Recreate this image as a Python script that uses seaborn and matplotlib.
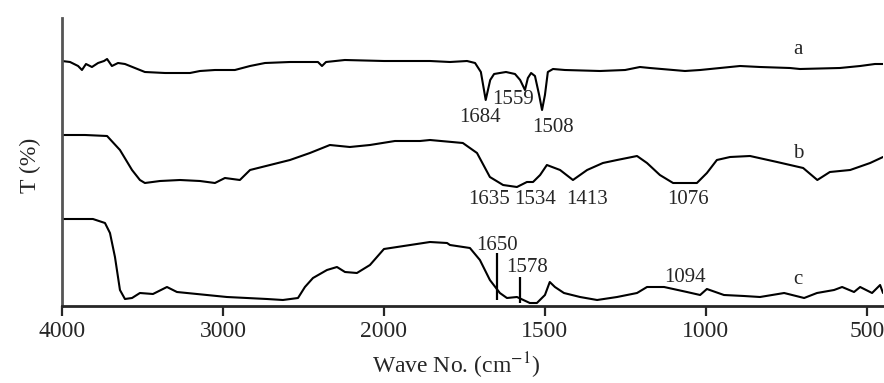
import numpy as np
import pandas as pd
import matplotlib
matplotlib.use("Agg")
import matplotlib.pyplot as plt
import seaborn as sns

# wavenumber (cm-1) and relative transmittance
wn_a = [4000, 3950, 3900, 3876, 3851, 3814, 3776, 3739, 3720, 3690, 3652, 3609, 3547,
        3485, 3360, 3205, 3143, 3050, 2926, 2832, 2739, 2584, 2410, 2385, 2360, 2243,
        2000, 1857, 1795, 1742, 1717, 1699, 1684, 1670, 1658, 1640, 1621, 1593, 1577,
        1562, 1553, 1543, 1531, 1518, 1509, 1500, 1491, 1475, 1438, 1329, 1251, 1205,
        1174, 1065, 1018, 956, 894, 832, 739, 708, 584, 521, 475, 450]
t_a = [245, 244, 240, 236, 242, 239, 243, 245, 247, 240, 243, 242, 238,
       234, 233, 233, 235, 236, 236, 240, 243, 244, 244, 240, 244, 246,
       245, 245, 244, 245, 243, 234, 206, 226, 232, 233, 234, 232, 226,
       216, 228, 233, 230, 211, 196, 211, 234, 237, 236, 235, 236, 239,
       238, 235, 236, 238, 240, 239, 238, 237, 238, 240, 242, 242]

wn_b = [4000, 3857, 3720, 3640, 3565, 3516, 3485, 3391, 3267, 3143, 3050, 2988, 2895,
        2832, 2708, 2584, 2460, 2336, 2212, 2087, 1966, 1888, 1857, 1755, 1711, 1671,
        1630, 1587, 1556, 1537, 1515, 1494, 1453, 1413, 1369, 1320, 1276, 1214, 1183,
        1143, 1102, 1028, 997, 966, 925, 863, 779, 698, 654, 615, 552, 490, 450]
t_b = [171, 171, 170, 156, 136, 126, 123, 125, 126, 125, 123, 128, 126,
       136, 141, 146, 153, 161, 159, 161, 165, 165, 166, 163, 153, 129,
       121, 119, 124, 124, 131, 141, 136, 126, 136, 143, 146, 150, 143,
       131, 123, 123, 133, 146, 149, 150, 144, 138, 126, 134, 136, 143, 149]

wn_c = [4000, 3808, 3733, 3702, 3671, 3640, 3609, 3565, 3516, 3435, 3348, 3286, 3224,
        3100, 2976, 2851, 2727, 2628, 2534, 2491, 2441, 2354, 2292, 2242, 2168, 2087,
        2000, 1857, 1804, 1795, 1733, 1702, 1671, 1640, 1618, 1587, 1547, 1525, 1500,
        1485, 1469, 1441, 1391, 1338, 1276, 1214, 1183, 1130, 1059, 1018, 997, 944,
        882, 832, 757, 695, 655, 602, 577, 540, 521, 484, 459, 450]
t_c = [87, 87, 83, 73, 49, 16, 7, 8, 13, 12, 19, 14, 13,
       11, 9, 8, 7, 6, 8, 19, 28, 36, 39, 34, 33, 41,
       57, 64, 63, 61, 58, 46, 26, 13, 8, 9, 3, 3, 11,
       24, 19, 13, 9, 6, 9, 13, 19, 19, 14, 11, 17, 11,
       10, 9, 13, 8, 13, 16, 19, 14, 19, 13, 21, 13]

# peak labels and the two marker sticks on curve c
peaks_a = [1684, 1559, 1508]
peaks_b = [1635, 1534, 1413, 1076]
peaks_c = [1650, 1578, 1094]
stick_wn = [1650, 1578]
stick_lo = [6, 3]
stick_hi = [53, 29]

curves = {"a": (wn_a, t_a), "b": (wn_b, t_b), "c": (wn_c, t_c)}

sns.set_style("ticks")
plt.rcParams["font.family"] = ["Liberation Serif", "DejaVu Serif"]
plt.rcParams["mathtext.fontset"] = "stix"

fig = plt.figure(figsize=(8.84, 3.83), dpi=100)
ax = fig.add_axes([62 / 884, 77 / 383, 821 / 884, 288 / 383])

for name, (wn, t) in curves.items():
    df = pd.DataFrame({"wn": wn, "T": t})
    sns.lineplot(data=df, x="wn", y="T", ax=ax, color="black", lw=1.5,
                 estimator=None, sort=True)

ax.vlines(stick_wn, stick_lo, stick_hi, color="black", lw=1.6)


# wavenumber axis is expanded 2x below 2000 cm-1
def fwd(x):
    x = np.asarray(x, dtype=float)
    return np.where(x > 2000, 2000 + (x - 2000) / 2, x)


def inv(g):
    g = np.asarray(g, dtype=float)
    return np.where(g > 2000, 2000 + 2 * (g - 2000), g)


ax.set_xscale("function", functions=(fwd, inv))
ax.set_xlim(4000, 450)
ax.set_ylim(0, 288)
ax.set_xticks([4000, 3000, 2000, 1500, 1000, 500])
ax.set_xticklabels(["4000", "3000", "2000", "1500", "1000", "500"])
ax.xaxis.set_minor_locator(matplotlib.ticker.NullLocator())
ax.set_yticks([])

for s in ["top", "right"]:
    ax.spines[s].set_visible(False)
ax.spines["left"].set_linewidth(2.0)
ax.spines["left"].set_color("#555555")
ax.spines["bottom"].set_linewidth(2.0)
ax.tick_params(axis="x", direction="out", length=7, width=1.6, labelsize=17, pad=4)

ax.set_xlabel("Wave No. (cm$^{-1}$)", fontsize=17)
ax.xaxis.set_label_coords(0.48, -0.155)
ax.set_ylabel("T (%)", fontsize=17)
ax.yaxis.set_label_coords(-0.026, 0.49)

fs = 15
# label placement (wavenumber, height)
pos_a = [(1702, 188), (1599, 206), (1475, 179)]
pos_b = [(1674, 106), (1531, 106), (1369, 106), (1056, 106)]
pos_c = [(1649, 61), (1556, 39), (1065, 29)]
for vals, pos in [(peaks_a, pos_a), (peaks_b, pos_b), (peaks_c, pos_c)]:
    for v, (x, y) in zip(vals, pos):
        ax.text(x, y, str(v), ha="center", va="center", fontsize=fs)

for name, y in [("a", 256), ("b", 153), ("c", 26)]:
    ax.text(714, y, name, ha="center", va="center", fontsize=fs)

fig.savefig("out.png", dpi=100)
